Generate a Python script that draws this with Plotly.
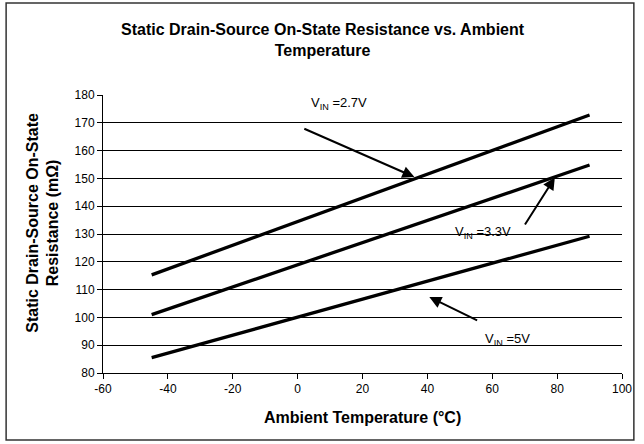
import plotly.graph_objects as go

temps = [-45, 90]
r_27 = [115.3, 172.8]
r_33 = [101.0, 154.8]
r_50 = [85.5, 129.2]
x_ticks = [-60, -40, -20, 0, 20, 40, 60, 80, 100]
x_labels = ["-60", "-40", "-20", "0", "20", "40", "60", "80", "100"]
y_ticks = [80, 90, 100, 110, 120, 130, 140, 150, 160, 170, 180]

FONT = "Liberation Sans, Arial, sans-serif"

fig = go.Figure()
for name, ys in [("2.7V", r_27), ("3.3V", r_33), ("5V", r_50)]:
    fig.add_trace(go.Scatter(x=temps, y=ys, mode="lines", name=name,
                             line=dict(color="black", width=3.3), showlegend=False))

L, R, T, B = 103, 16, 95, 71
W, H = 644, 444
pw, ph = W - L - R, H - T - B

def px_to_paper(x, y):
    return (x - L) / pw, (H - B - y) / ph

x0, y0 = px_to_paper(5, 3)
x1, y1 = px_to_paper(640, 440)

fig.update_layout(
    width=W, height=H,
    margin=dict(l=L, r=R, t=T, b=B),
    paper_bgcolor="white", plot_bgcolor="white",
    font=dict(family=FONT, size=12, color="black"),
    xaxis=dict(range=[-60, 100], tickvals=x_ticks, ticktext=x_labels, showgrid=False, zeroline=False,
               showline=True, linecolor="black", linewidth=1, ticks="outside",
               ticklen=5, tickcolor="black", tickfont=dict(size=12)),
    yaxis=dict(range=[80, 180], tickvals=y_ticks, showgrid=True, gridcolor="black", gridwidth=1,
               zeroline=False, showline=True, linecolor="black", linewidth=1, ticks="outside",
               ticklen=5, tickcolor="black", tickfont=dict(size=12)),
    shapes=[dict(type="rect", xref="paper", yref="paper", x0=x0, y0=y0, x1=x1, y1=y1,
                 line=dict(color="#333333", width=1.5), layer="below")],
    annotations=[
        dict(text="<b>Static Drain-Source On-State Resistance vs. Ambient<br>Temperature</b>",
             xref="paper", yref="paper", x=px_to_paper(326, 0)[0], y=px_to_paper(0, 40)[1],
             xanchor="center", yanchor="middle",
             showarrow=False, font=dict(size=16), align="center"),
        dict(text="<b>Ambient Temperature (°C)</b>",
             xref="paper", yref="paper", x=0.5, y=px_to_paper(0, 417)[1],
             xanchor="center", yanchor="middle",
             showarrow=False, font=dict(size=16)),
        dict(text="<b>Static Drain-Source On-State<br>Resistance (mΩ)</b>",
             xref="paper", yref="paper", x=px_to_paper(42, 0)[0], y=px_to_paper(0, 223)[1],
             xanchor="center", yanchor="middle",
             showarrow=False, textangle=-90, font=dict(size=16), align="center"),
        dict(text="V<sub>IN</sub> =2.7V", x=12.6, y=176.8, xref="x", yref="y",
             xanchor="center", yanchor="middle", showarrow=False, font=dict(size=13)),
        dict(text="V<sub>IN</sub> =3.3V", x=57, y=130.4, xref="x", yref="y",
             xanchor="center", yanchor="middle", showarrow=False, font=dict(size=13)),
        dict(text="V<sub>IN</sub> =5V", x=64.6, y=92.2, xref="x", yref="y",
             xanchor="center", yanchor="middle", showarrow=False, font=dict(size=13)),
        dict(text="", x=36, y=150.5, ax=1.6, ay=168.1, xref="x", yref="y", axref="x", ayref="y",
             showarrow=True, arrowhead=2, arrowsize=1.2, arrowwidth=2, arrowcolor="black"),
        dict(text="", x=79.3, y=150.3, ax=69.8, ay=132.9, xref="x", yref="y", axref="x", ayref="y",
             showarrow=True, arrowhead=2, arrowsize=1.2, arrowwidth=2, arrowcolor="black"),
        dict(text="", x=40.6, y=107.3, ax=55.8, ay=98.7, xref="x", yref="y", axref="x", ayref="y",
             showarrow=True, arrowhead=2, arrowsize=1.2, arrowwidth=2, arrowcolor="black"),
    ],
)

fig.write_html("out.html", config={"displayModeBar": False},
               post_script="document.body.style.margin='0px';document.body.style.overflow='hidden';")
